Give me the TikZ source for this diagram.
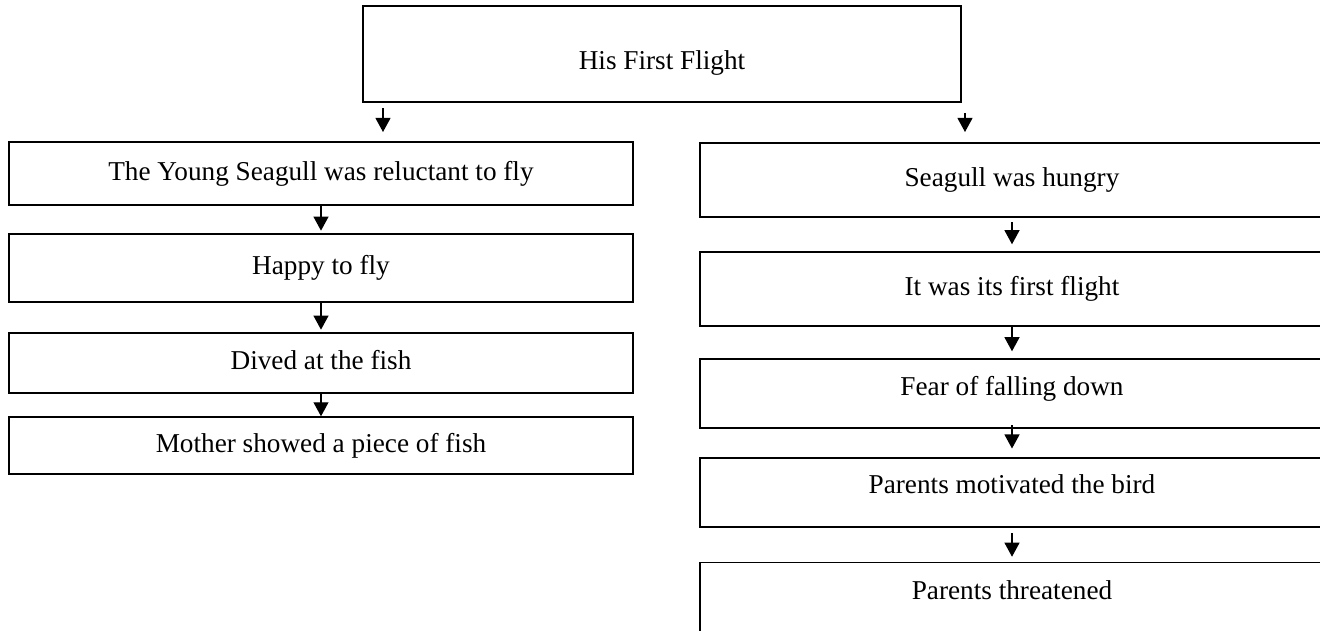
\documentclass[tikz,border=0pt]{standalone}
\usepackage{fontspec}
\setmainfont{Liberation Serif}
\usetikzlibrary{arrows.meta}

\begin{document}
\begin{tikzpicture}[x=0.02cm, y=-0.02cm,
        box/.style={rectangle, draw=black, line width=0.8pt, align=center, inner sep=0pt,
                    font=\fontsize{15.5}{18}\selectfont, text height=11pt, text depth=3.5pt},
        lbox/.style={box, minimum width=12.48cm},
        rbox/.style={box, minimum width=12.48cm},
        arrow/.style={draw, line width=0.8pt, -{Triangle[length=8pt, width=8.5pt]}}
    ]
        \useasboundingbox (0,0) rectangle (1320,630);
        \clip (0,0) rectangle (1320,630);
        % title
        \node [box, line width=1pt, minimum width=11.96cm, minimum height=1.92cm, text height=21pt] (title) at (662,54) {His First Flight};
        \coordinate (ltip) at (383,132);
        \coordinate (rtip) at (965,132);
        % left branch
        \node [lbox, minimum height=1.26cm] (reluctant) at (321,173.5) {The Young Seagull was reluctant to fly};
        \node [lbox, minimum height=1.36cm] (happy)     at (321,268)   {Happy to fly};
        \node [lbox, minimum height=1.2cm]  (dived)     at (321,363)   {Dived at the fish};
        \node [lbox, minimum height=1.14cm] (mother)    at (321,445.5) {Mother showed a piece of fish};
        % right branch
        \node [rbox, minimum height=1.48cm] (hungry)    at (1012,180)   {Seagull was hungry};
        \node [rbox, minimum height=1.48cm] (firstfl)   at (1012,289)   {It was its first flight};
        \node [rbox, minimum height=1.38cm, text depth=8.6pt] (fear)      at (1012,393.5) {Fear of falling down};
        \node [rbox, minimum height=1.38cm, text depth=9.7pt] (motivated) at (1012,492.5) {Parents motivated the bird};
        \node [rbox, anchor=north, minimum height=2.4cm, text height=21pt, text depth=47pt] (threat) at (1012,562) {Parents threatened};
        % arrows
        \draw [arrow, shorten <=3pt] (title.south -| ltip) -- (ltip);
        \draw [arrow, shorten <=5.7pt] (title.south -| rtip) -- (rtip);
        \draw [arrow, shorten >=1.5pt] (reluctant) -- (happy);
        \draw [arrow, shorten >=1.5pt] (happy)     -- (dived);
        \draw [arrow] (dived)     -- (mother);
        \draw [arrow, shorten <=2.5pt, shorten >=4pt] (hungry)  -- (firstfl);
        \draw [arrow, shorten >=4pt] (firstfl)   -- (fear);
        \draw [arrow, shorten <=-2pt, shorten >=5pt] (fear) -- (motivated);
        \draw [arrow, shorten <=3pt, shorten >=3pt] (motivated) -- (threat);
\end{tikzpicture}
\end{document}
